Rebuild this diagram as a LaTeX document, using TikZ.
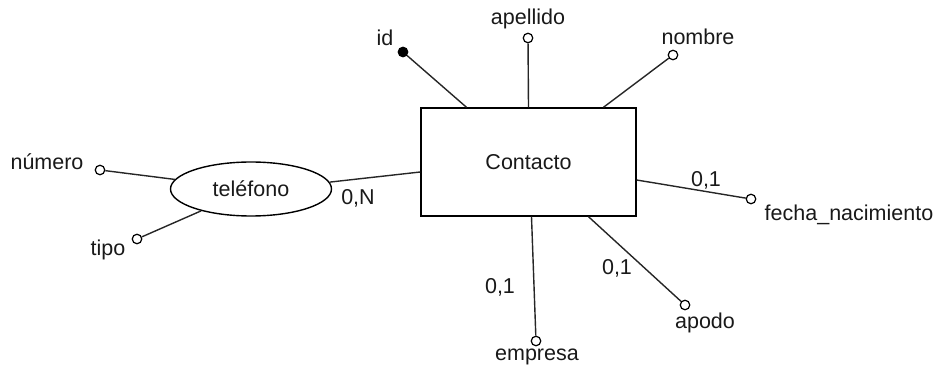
\documentclass[tikz,border=0pt]{standalone}
\usepackage{fontspec}
\setmainfont{Liberation Sans}
\usetikzlibrary{shapes.geometric,calc}
\begin{document}
\begin{tikzpicture}[x=1pt,y=-1pt,
  every node/.style={font=\fontsize{21.5}{25}\selectfont, text=black!90},
  entity/.style={draw, line width=1.4pt, minimum width=215pt, minimum height=108pt, inner sep=0pt},
  multi/.style={draw, ellipse, line width=1.4pt, minimum width=161pt, minimum height=54pt, inner sep=0pt},
  attr/.style={draw, circle, fill=white, line width=1.2pt, minimum size=9.5pt, inner sep=0pt},
  keyattr/.style={attr, fill=black},
  lbl/.style={inner sep=0pt},
  link/.style={line width=1.4pt, black!85}]
\useasboundingbox (0,0) rectangle (937,371);

% entity and multivalued attribute
\node[entity] (ctr) at (528.5,162) {Contacto};
\node[multi] (tel) at (251,189) {teléfono};

% attribute markers
\node[keyattr] (idd) at (403,52) {};
\node[attr] (ape) at (528,38) {};
\node[attr] (nom) at (673,55) {};
\node[attr] (fec) at (751,199) {};
\node[attr] (apo) at (685,305) {};
\node[attr] (emp) at (536,341) {};
\node[attr] (num) at (100,170) {};
\node[attr] (tip) at (137,239) {};

% attribute names
\node[lbl] (lid) at (385,38) {id};
\node[lbl] (lape) at (528,19) {apellido};
\node[lbl] (lnom) at (698,37) {nombre};
\node[lbl] (lfec) at (849,215) {fecha\_nacimiento};
\node[lbl] (lapo) at (705,323) {apodo};
\node[lbl] (lemp) at (537,357) {empresa};
\node[lbl] (lnum) at (47,162) {número};
\node[lbl] (ltip) at (108,250) {tipo};

% cardinalities
\node[lbl] (c1) at (358,198) {0,N};
\node[lbl] (c2) at (706,180) {0,1};
\node[lbl] (c3) at (617,268) {0,1};
\node[lbl] (c4) at (500,287) {0,1};

% connectors
\draw[link] ($(ctr.north)+(-62,0)$) -- (idd);
\draw[link] (ctr.north) -- (ape);
\draw[link] ($(ctr.north)+(75,0)$) -- (nom);
\draw[link] ($(ctr.east)+(0,18)$) -- (fec);
\draw[link] ($(ctr.south)+(60,0)$) -- (apo);
\draw[link] ($(ctr.south)+(3,0)$) -- (emp);
\draw[link] (tel.5) -- ($(ctr.west)+(0,10)$);
\draw[link] (num) -- (tel);
\draw[link] (tip) -- (tel);
\end{tikzpicture}
\end{document}
